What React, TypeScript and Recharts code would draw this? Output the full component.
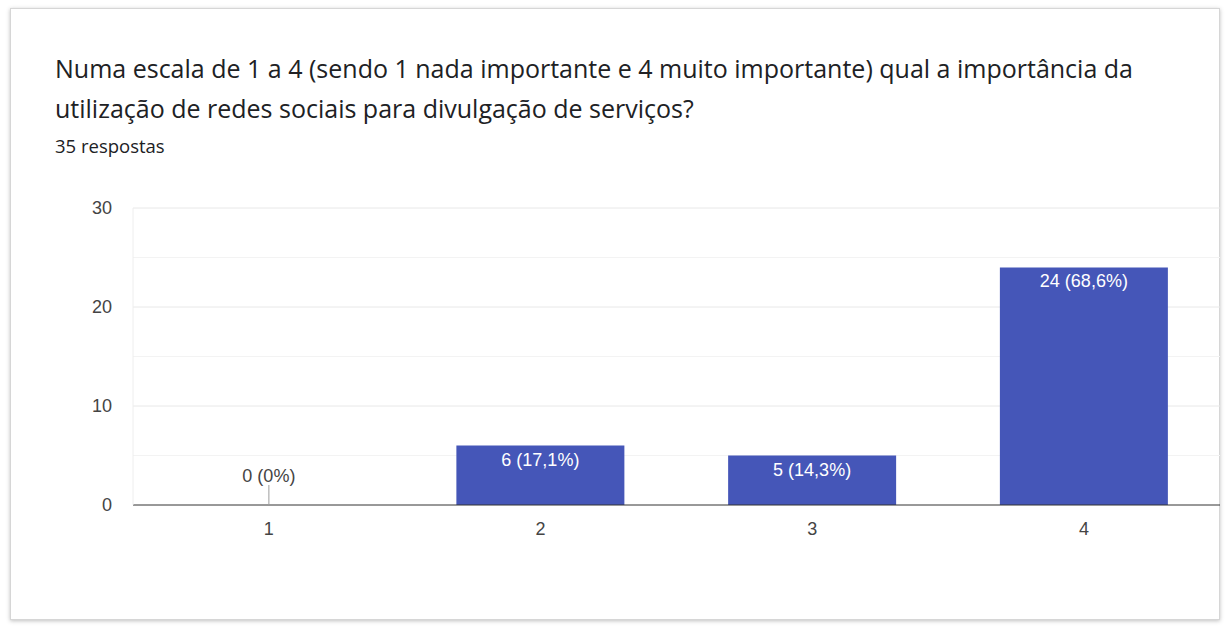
import { BarChart, Bar, XAxis, YAxis, CartesianGrid, LabelList, ReferenceDot } from "recharts";

const categories = ["1", "2", "3", "4"];
const counts = [0, 6, 5, 24];
const totalResponses = 35;
const yTicks = [0, 10, 20, 30];
const minorGrid = [5, 15, 25];
const majorGrid = [10, 20, 30];

const data = categories.map((name, i) => ({ name, count: counts[i] }));

const chartFont = "'Liberation Sans', Arial, sans-serif";

const pct = (v: number) => {
  const p = ((v / totalResponses) * 100).toFixed(1).replace(".", ",");
  return p.endsWith(",0") ? p.slice(0, -2) : p;
};

const labelText = (v: number) => `${v} (${pct(v)}%)`;

function BarLabel(props: any) {
  const { x, y, width, value } = props;
  if (!value) return null;
  return (
    <text x={x + width / 2} y={y + 20} textAnchor="middle" fontSize={18} fontFamily={chartFont} fill="#fff">
      {labelText(value)}
    </text>
  );
}

// zero bars have no rect, so their label is drawn at the baseline point instead
function ZeroLabel(props: any) {
  const { cx, cy } = props;
  return (
    <g>
      <line x1={cx} x2={cx} y1={cy - 20} y2={cy} stroke="#9e9e9e" strokeWidth={1} />
      <text x={cx} y={cy - 23} textAnchor="middle" fontSize={18} fontFamily={chartFont} fill="#444">
        {labelText(0)}
      </text>
    </g>
  );
}

export default function App() {
  return (
    <div style={{ position: "absolute", left: 0, top: 0, width: 1228, height: 626, background: "#fff" }}>
      <div
        style={{
          position: "absolute",
          left: 10,
          top: 8,
          width: 1208,
          height: 610,
          border: "1px solid #d6d6d6",
          boxShadow: "0 1px 4px rgba(0,0,0,0.25)",
          background: "#fff",
        }}
      />
      <div
        style={{
          position: "absolute",
          left: 55,
          top: 48,
          width: 1160,
          fontFamily: "'Open Sans', Roboto, sans-serif",
          fontSize: 25,
          lineHeight: "40px",
          color: "#202124",
          whiteSpace: "nowrap",
        }}
      >
        Numa escala de 1 a 4 (sendo 1 nada importante e 4 muito importante) qual a importância da
        <br />
        utilização de redes sociais para divulgação de serviços?
      </div>
      <div
        style={{
          position: "absolute",
          left: 55,
          top: 134,
          fontFamily: "'Open Sans', Roboto, sans-serif",
          fontSize: 18.5,
          lineHeight: "24px",
          color: "#202124",
        }}
      >
        {totalResponses} respostas
      </div>
      <div style={{ position: "absolute", left: 0, top: 0 }}>
        <BarChart
          width={1228}
          height={626}
          data={data}
          margin={{ top: 208, right: 8, bottom: 91, left: 73 }}
          barCategoryGap="19%"
        >
          <CartesianGrid vertical={false} horizontalValues={minorGrid} stroke="#f3f3f3" />
          <CartesianGrid vertical={false} horizontalValues={majorGrid} stroke="#e8e8e8" />
          <XAxis
            dataKey="name"
            axisLine={{ stroke: "#333" }}
            tickLine={false}
            tickSize={0}
            tickMargin={17}
            height={30}
            tick={{ fontSize: 18, fill: "#444", fontFamily: chartFont }}
          />
          <YAxis
            domain={[0, 30]}
            ticks={yTicks}
            width={60}
            axisLine={{ stroke: "#eeeeee" }}
            tickLine={false}
            tickSize={0}
            tickMargin={21}
            tick={{ fontSize: 18, fill: "#444", fontFamily: chartFont }}
          />
          <Bar dataKey="count" fill="#4556b8" isAnimationActive={false}>
            <LabelList dataKey="count" content={BarLabel} />
          </Bar>
          {data
            .filter((d) => d.count === 0)
            .map((d) => (
              <ReferenceDot key={d.name} x={d.name} y={0} shape={ZeroLabel} ifOverflow="visible" />
            ))}
        </BarChart>
      </div>
    </div>
  );
}
